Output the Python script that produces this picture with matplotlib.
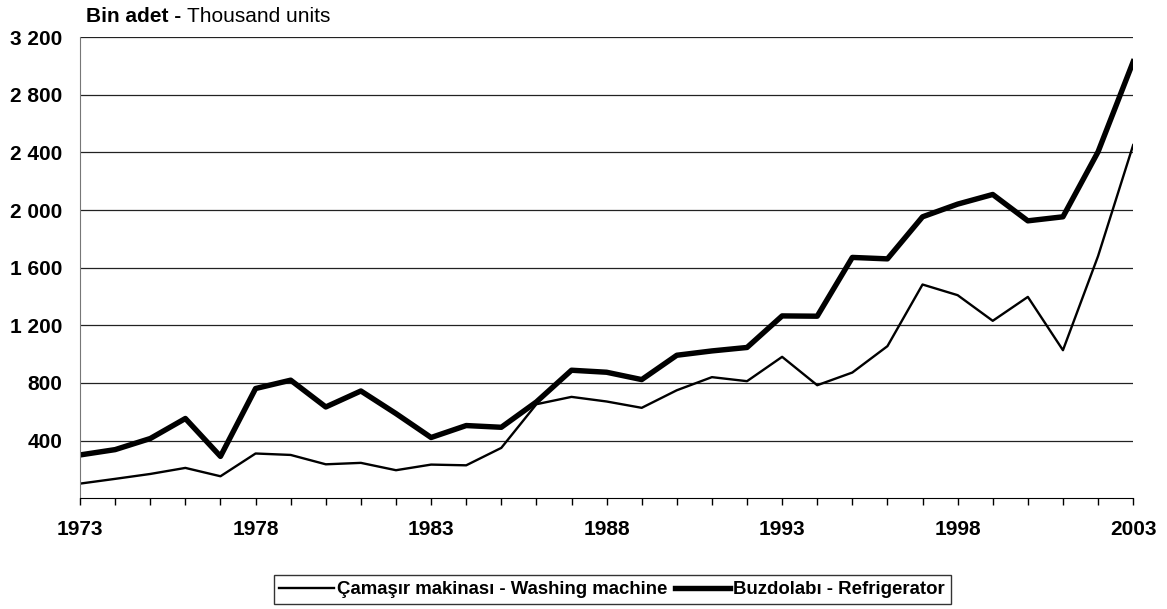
import matplotlib.pyplot as plt
import numpy as np

plt.rcParams['font.family'] = ['Liberation Sans', 'DejaVu Sans']

# === Data (thousand units) ===
years = list(range(1973, 2004))
washing = [101, 134, 168, 210, 152, 310, 300, 235, 245, 194,
           233, 228, 349, 652, 703, 671, 627, 749, 840, 812,
           981, 784, 872, 1055, 1483, 1409, 1231, 1397, 1027, 1680,
           2451]
fridge = [300, 337, 414, 553, 290, 761, 819, 633, 744, 587,
          421, 504, 492, 668, 888, 874, 823, 992, 1022, 1046,
          1265, 1263, 1671, 1661, 1953, 2041, 2108, 1925, 1953, 2404,
          3029]
y_ticks = [400, 800, 1200, 1600, 2000, 2400, 2800, 3200]
y_labels = ['400', '800', '1 200', '1 600', '2 000', '2 400', '2 800', '3 200']
x_major = [1973, 1978, 1983, 1988, 1993, 1998, 2003]

fig = plt.figure(figsize=(11.67, 6.09), dpi=100)
ax = fig.add_axes([0.0686, 0.182, 0.9024, 0.757])

ax.plot(years, washing, color='black', lw=1.7, label='Çamaşır makinası - Washing machine')
ax.plot(years, fridge, color='black', lw=3.9, label='Buzdolabı - Refrigerator')

ax.set_xlim(1973, 2003)
ax.set_ylim(0, 3200)

ax.set_yticks(y_ticks)
ax.set_yticklabels(y_labels, fontweight='bold', fontsize=15)
ax.tick_params(axis='y', length=0, pad=12.5)
ax.grid(axis='y', color='#222222', lw=0.9)
ax.set_axisbelow(True)

ax.set_xticks(x_major)
ax.set_xticklabels([str(x) for x in x_major], fontweight='bold', fontsize=15)
ax.set_xticks(years, minor=True)
ax.tick_params(axis='x', which='both', length=5, width=1, direction='out', pad=10.5)

for s in ['top', 'right']:
    ax.spines[s].set_visible(False)
ax.spines['left'].set_color('#777777')
ax.spines['bottom'].set_color('black')

t1 = fig.text(0.0737, 0.973, 'Bin adet - ', fontweight='bold', fontsize=15, va='center')
fig.canvas.draw()
ax.annotate('Thousand units', xy=(1, 0), xycoords=t1, fontsize=15, va='bottom')

leg = fig.legend(loc='center', bbox_to_anchor=(0.5245, 0.032), ncol=2,
                 frameon=True, fancybox=False, edgecolor='black',
                 prop={'weight': 'bold', 'size': 13.4}, handlelength=2.95,
                 handletextpad=0.16, columnspacing=0.43, borderpad=0.3,
                 borderaxespad=0)
leg.get_frame().set_linewidth(1.0)

fig.savefig('out.png', dpi=100)
